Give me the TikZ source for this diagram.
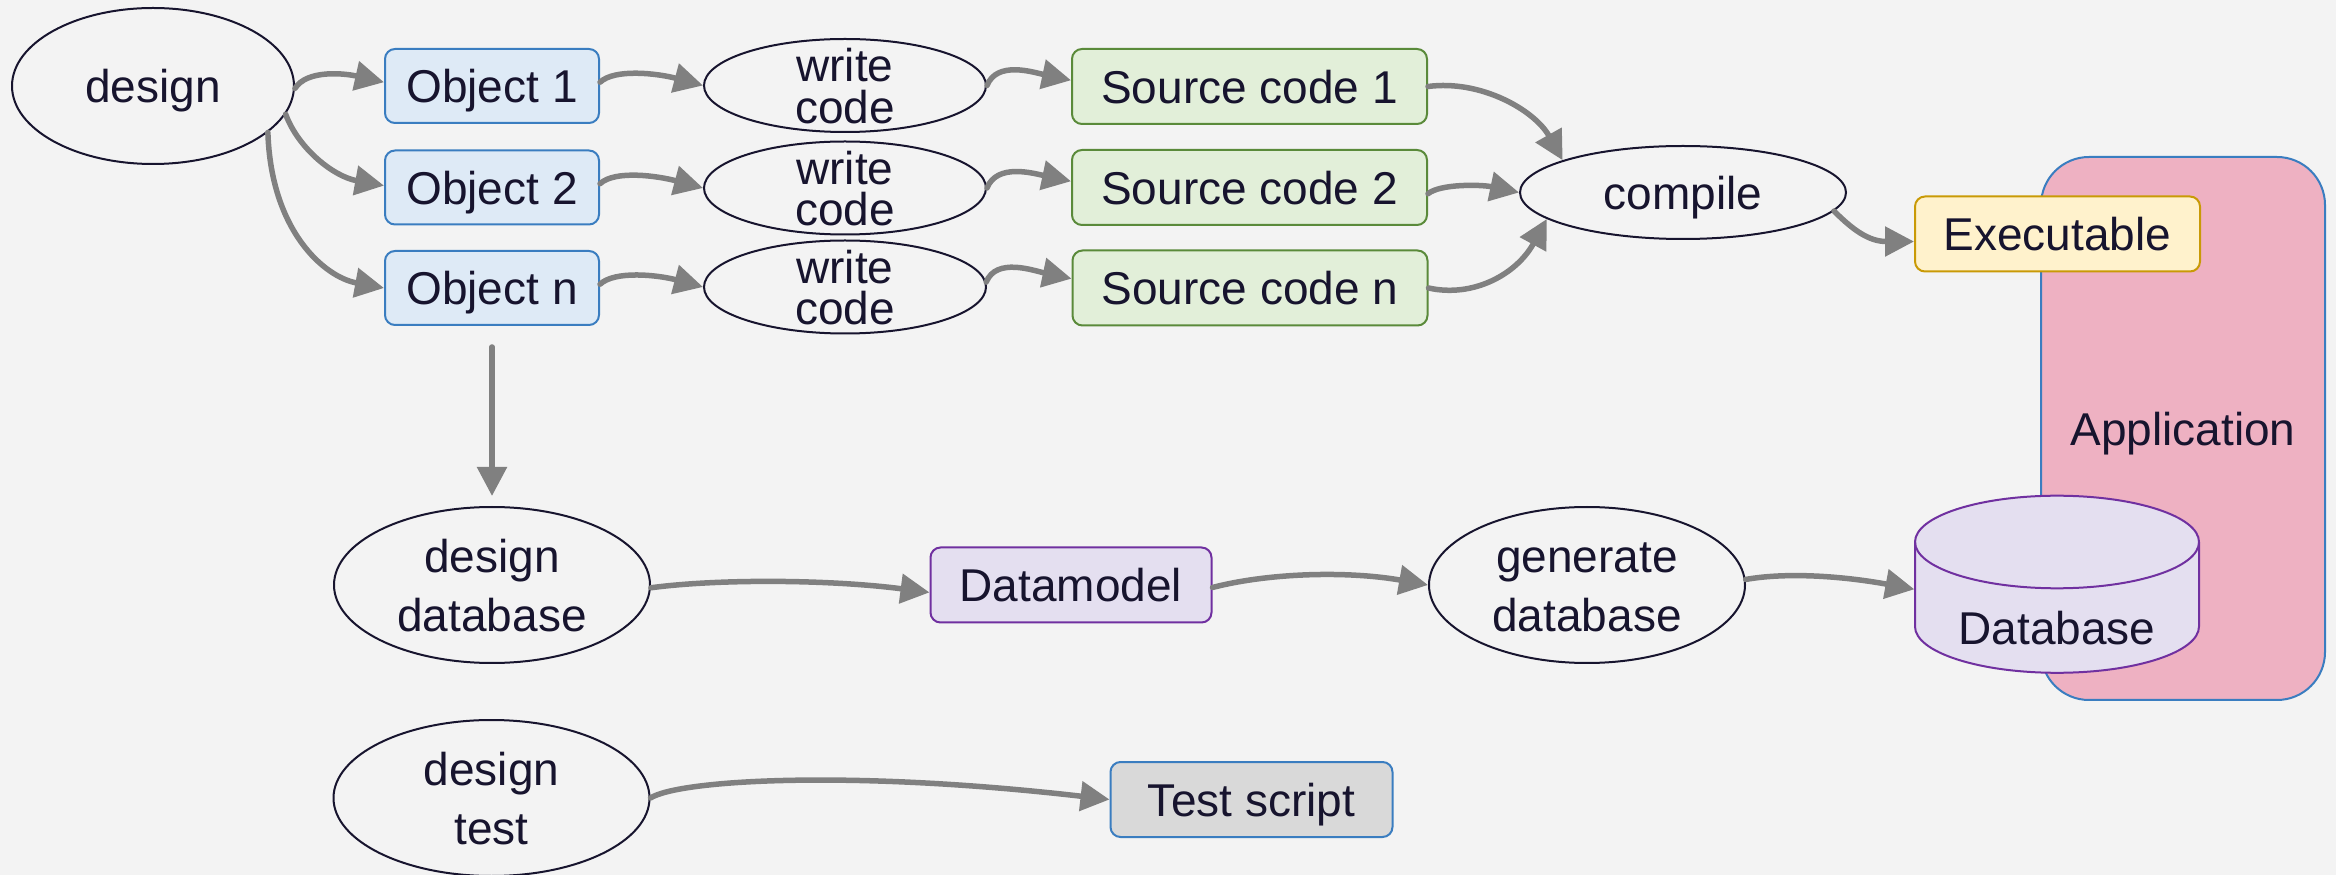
\documentclass[tikz,border=0pt]{standalone}
\usepackage{fontspec}
\setmainfont{Liberation Sans}
\usetikzlibrary{shapes.geometric,arrows.meta}
\definecolor{bg}{HTML}{F3F3F3}
\definecolor{txt}{HTML}{17142E}
\definecolor{objfill}{HTML}{DEEAF6}
\definecolor{blueline}{HTML}{3A7DC0}
\definecolor{srcfill}{HTML}{E2EFD9}
\definecolor{srcline}{HTML}{5A8A3A}
\definecolor{exefill}{HTML}{FFF2CC}
\definecolor{exeline}{HTML}{C99A06}
\definecolor{purfill}{HTML}{E4DFF0}
\definecolor{purline}{HTML}{7030A0}
\definecolor{tsfill}{HTML}{D9D9D9}
\definecolor{appfill}{HTML}{EEB1C2}
\definecolor{arrgray}{HTML}{808080}
\newcommand\ls{\rule[-0.6pt]{0pt}{11.4pt}}
\begin{document}
\begin{tikzpicture}[x=0.3pt,y=0.3pt,
  base/.style={text=txt, font=\fontsize{13.8pt}{16pt}\selectfont, inner sep=0pt},
  box/.style={base, rectangle, rounded corners=3pt, line width=0.6pt, text height=10.8pt, text depth=0.6pt},
  objbox/.style={box, draw=blueline, fill=objfill, minimum width=64.2pt, minimum height=22.2pt},
  srcbox/.style={box, draw=srcline, fill=srcfill, minimum width=106.5pt, minimum height=22.5pt},
  ell/.style={ellipse, draw=txt, line width=0.6pt, inner sep=0pt},
  elltext/.style={ell, base, text height=10.8pt, text depth=0.6pt},
  lbl/.style={base, align=center},
  lbltight/.style={lbl, font=\fontsize{13.8pt}{12.5pt}\selectfont},
  lblwide/.style={lbl, font=\fontsize{13.8pt}{17.7pt}\selectfont},
  arr/.style={draw=arrgray, line width=1.65pt, line cap=round, -{Triangle[length=8.7pt,width=8.7pt]}},
]
\fill[bg] (0,0) rectangle (2336,-875);
\useasboundingbox (0,0) rectangle (2336,-875);

% application container
\node[box, draw=blueline, fill=appfill, rounded corners=14.4pt, minimum width=85.2pt, minimum height=162.9pt] (app) at (2183,-428.5) {Application};

% top row
\node[elltext, minimum width=84.6pt, minimum height=46.8pt] (design) at (153,-86) {design};
\node[objbox] (o1) at (492,-86) {Object 1};
\node[objbox] (o2) at (492,-187.5) {Object 2};
\node[objbox] (on) at (492,-288) {Object n};

\node[ell, minimum width=84.6pt, minimum height=27.9pt, label={[lbltight]center:\ls write\\\ls code}] (w1) at (845,-85.5) {};
\node[ell, minimum width=84.6pt, minimum height=27.9pt, label={[lbltight]center:\ls write\\\ls code}] (w2) at (845,-188) {};
\node[ell, minimum width=84.6pt, minimum height=27.9pt, label={[lbltight]center:\ls write\\\ls code}] (wn) at (845,-287) {};

\node[srcbox] (s1) at (1249.5,-86.5) {Source code 1};
\node[srcbox] (s2) at (1249.5,-187.5) {Source code 2};
\node[srcbox] (sn) at (1250,-288) {Source code n};

\node[elltext, minimum width=97.8pt, minimum height=27.9pt] (comp) at (1683,-192.5) {compile};
\node[box, draw=exeline, fill=exefill, minimum width=85.5pt, minimum height=22.5pt] (exe) at (2057.5,-234) {Executable};

% database cylinder
\node[minimum width=85.2pt, minimum height=53.1pt, inner sep=0pt] (db) at (2057,-584.3) {};
\filldraw[fill=purfill, draw=purline, line width=0.6pt]
  (1915,-542) -- (1915,-626.5) arc[start angle=180, end angle=360, x radius=42.6pt, y radius=13.89pt]
  -- (2199,-542) arc[start angle=0, end angle=180, x radius=42.6pt, y radius=13.89pt] -- cycle;
\draw[draw=purline, line width=0.6pt] (1915,-542) arc[start angle=180, end angle=360, x radius=42.6pt, y radius=13.89pt];
\node[base, text height=10.8pt, text depth=0.6pt] (dbtext) at (2057,-628) {Database};

% middle row
\node[ell, minimum width=94.8pt, minimum height=46.8pt, label={[lblwide]center:\ls design\\\ls database}] (ddb) at (492,-585) {};
\node[box, draw=purline, fill=purfill, minimum width=84.3pt, minimum height=22.5pt] (dm) at (1071,-585) {Datamodel};
\node[ell, minimum width=94.8pt, minimum height=46.8pt, label={[lblwide]center:\ls generate\\\ls database}] (gdb) at (1587,-585) {};

% bottom row
\node[ell, minimum width=94.8pt, minimum height=46.8pt, label={[lblwide]center:\ls design\\\ls test}] (dt) at (491.5,-798) {};
\node[box, draw=blueline, fill=tsfill, minimum width=84.6pt, minimum height=22.5pt] (ts) at (1251.5,-799.5) {Test script};

% connectors
\draw[arr] (design.-1) .. controls +(12,19) and +(-40,9) .. (o1.178);
\draw[arr] (design.-12) .. controls +(13,-35) and +(-50,9) .. (o2.179);
\draw[arr] (design.-22) .. controls +(3,-98) and +(-60,11) .. (on.west);

\draw[arr] (o1.2) .. controls +(15,14) and +(-45,12) .. (w1.west);
\draw[arr] (o2.2) .. controls +(15,14) and +(-45,12) .. (w2.west);
\draw[arr] (on.2) .. controls +(15,14) and +(-45,12) .. (wn.west);

\draw[arr] (w1.east) .. controls +(10,25) and +(-38,8) .. (s1.178);
\draw[arr] (w2.east) .. controls +(10,25) and +(-38,8) .. (s2.178);
\draw[arr] (wn.2) .. controls +(10,25) and +(-38,8) .. (sn.177);

\draw[arr] (s1.east) .. controls +(53,7) and +(-28,50) .. (comp.165);
\draw[arr] (s2.-2) .. controls +(12,10) and +(-38,8) .. (comp.west);
\draw[arr] (sn.east) .. controls +(45,-10) and +(-30,-55) .. (comp.191);
\draw[arr] (comp.-7) .. controls +(19,-19) and +(-45,0) .. (exe.183);

\draw[arr, shorten <=6.3pt, shorten >=3pt] (on.south) -- (ddb.north);
\draw[arr] (ddb.-1) .. controls +(67,9) and +(-100,13) .. (dm.183);
\draw[arr] (dm.-1) .. controls +(58,15) and +(-79,14) .. (gdb.west);
\draw[arr] (gdb.2) .. controls +(45,8) and +(-65,12) .. (db.182);
\draw[arr] (dt.east) .. controls +(28,18) and +(-260,30) .. (ts.west);
\end{tikzpicture}
\end{document}
